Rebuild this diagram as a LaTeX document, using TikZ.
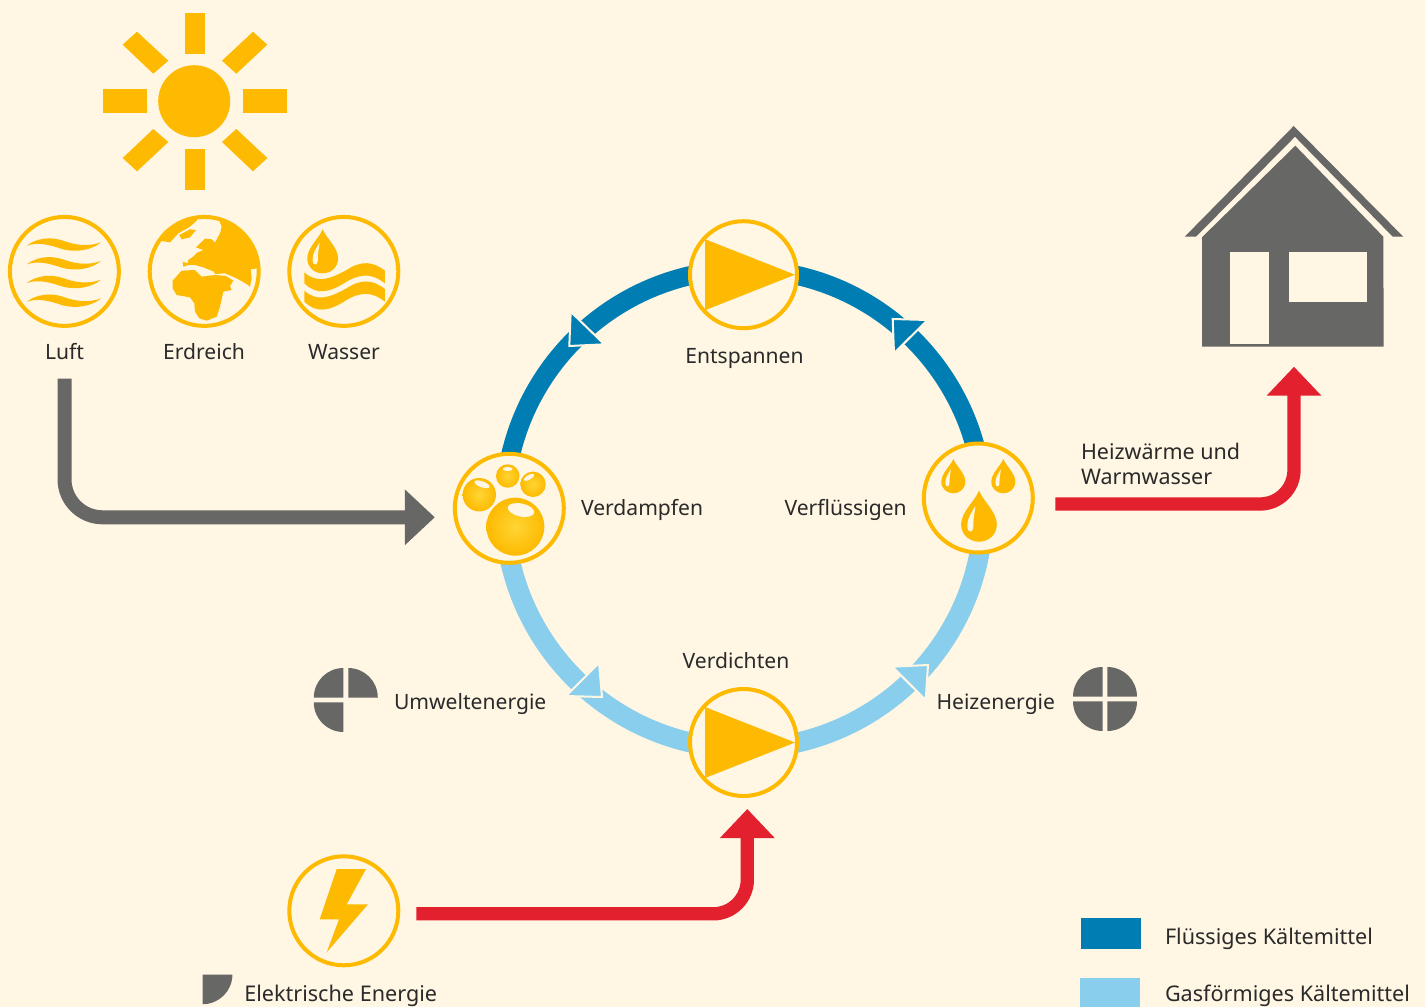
\documentclass[tikz,border=0pt]{standalone}
\usepackage{fontspec}
\setmainfont{Noto Sans}
\usetikzlibrary{arrows.meta,backgrounds}

\definecolor{creambg}{HTML}{FFF6E4}
\definecolor{sunyellow}{HTML}{FDBA00}
\definecolor{bubblelight}{HTML}{FFD535}
\definecolor{liquidblue}{HTML}{007DB3}
\definecolor{gasblue}{HTML}{89CEEC}
\definecolor{powerred}{HTML}{E2202E}
\definecolor{housegray}{HTML}{676766}
\definecolor{labelgray}{HTML}{2A2A2A}

\tikzset{
  iconring/.style={circle,draw=sunyellow,fill=creambg,line width=4pt,inner sep=0pt,outer sep=0pt,minimum size=109pt},
  pumpring/.style={iconring,minimum size=107pt},
  steplabel/.style={text=labelgray,font=\fontsize{21.1}{25}\selectfont,inner sep=0pt,outer sep=0pt,anchor=base},
  leftlabel/.style={steplabel,anchor=base west},
  legendlabel/.style={leftlabel,font=\fontsize{21.6}{25}\selectfont},
  liquidline/.style={draw=liquidblue,line width=19pt},
  gasline/.style={draw=gasblue,line width=20pt},
  ringtip/.style={draw=creambg,line width=2pt,line join=miter},
  redarrow/.style={draw=powerred,line width=13.3pt,rounded corners=34pt,-{Triangle[length=29pt,width=53pt]}},
  grayarrow/.style={draw=housegray,line width=14pt,rounded corners=38pt,-{Triangle[length=30pt,width=54pt]}}
}

% one drop, #1/#2 = tip, #3 = height
\newcommand\waterdrop[3]{%
  \begin{scope}[shift={(#1,#2)},x=#3pt,y=-#3pt]
    \fill[sunyellow] (0,0) .. controls (.08,.2) and (.35,.42) .. (.35,.66)
      .. controls (.35,.87) and (.18,1) .. (0,1)
      .. controls (-.18,1) and (-.35,.87) .. (-.35,.66)
      .. controls (-.35,.42) and (-.08,.2) .. (0,0) -- cycle;
    \fill[creambg] (-.07,.3) .. controls (-.14,.42) and (-.23,.54) .. (-.23,.68)
      .. controls (-.23,.78) and (-.19,.82) .. (-.15,.8)
      .. controls (-.11,.78) and (-.11,.72) .. (-.11,.64)
      .. controls (-.11,.5) and (-.08,.42) .. (-.07,.3) -- cycle;
  \end{scope}}

\begin{document}
\begin{tikzpicture}[x=1pt,y=-1pt]
  \useasboundingbox (0,0) rectangle (1425,1007);

  % Background
  \begin{scope}[on background layer]
    \fill[creambg] (0,0) rectangle (1425,1007);
  \end{scope}

  % The sun
  \fill[sunyellow] (194.2,101.2) circle[radius=36pt];
  \fill[sunyellow] (185,12.7) rectangle (205,53.7);
  \fill[sunyellow] (185,148.7) rectangle (205,190);
  \fill[sunyellow] (102.7,89.3) rectangle (147,113.3);
  \fill[sunyellow] (243,89.3) rectangle (287.3,113.3);
  \fill[sunyellow] (137,31.7) -- (168.3,60.7) -- (153.3,73.7) -- (122.7,44.7) -- cycle;
  \fill[sunyellow] (253,31.7) -- (267.3,44.7) -- (236.3,73.7) -- (222,60.7) -- cycle;
  \fill[sunyellow] (153.3,129) -- (168.3,142) -- (137,171.3) -- (122.7,158) -- cycle;
  \fill[sunyellow] (236.3,129) -- (267.3,158) -- (253,171.3) -- (222,142) -- cycle;

  % The three sources
  \node[iconring] (luft) at (64.4,271.4) {};
  \node[iconring] (erdreich) at (204.2,271.4) {};
  \node[iconring] (wasser) at (343.8,271.4) {};
  \node[steplabel] (lufttext) at (64.5,359.3) {Luft};
  \node[steplabel] (erdreichtext) at (204,359.3) {Erdreich};
  \node[steplabel] (wassertext) at (344,359.3) {Wasser};

  % Air
  \foreach \i in {0,1,2,3}
    \fill[sunyellow,shift={(0,18.7*\i)}] (26.7,245.7) .. controls (36,238.5) and (50,236) .. (64,241)
      .. controls (75,245) and (88,247) .. (101,242.3)
      .. controls (92,250) and (76,253) .. (62,249)
      .. controls (50,245) and (38,241.5) .. (26.7,245.7) -- cycle;

  % Earth
  \begin{scope}
    \clip (erdreich) circle[radius=54pt];
    \begin{scope}[shift={(140,210)},x=.3333pt,y=-.3333pt]
      \fill[sunyellow] (240,38) -- (245,50) -- (240,70) -- (225,98) -- (215,88) -- (195,86) -- (168,112) -- (190,120)
        -- (172,128) -- (160,140) -- (145,150) -- (143,160) -- (128,155) -- (130,170) -- (145,165) -- (165,165)
        -- (190,172) -- (222,185) -- (225,192) -- (255,190) -- (290,205) -- (320,222) -- (330,230) -- (335,205)
        -- (332,178) -- (352,175) -- (375,170) -- (375,10) -- (240,10) -- cycle;
      \fill[sunyellow] (60,92) -- (90,97) -- (115,70) -- (150,50) -- (170,32) -- (175,10) -- (60,10) -- cycle;
      \fill[sunyellow] (118,75) -- (125,88) -- (150,82) -- (168,60) -- (150,58) -- cycle;
      \fill[sunyellow] (98,212) -- (125,182) -- (165,180) -- (185,200) -- (225,195) -- (258,198) -- (280,212)
        -- (270,228) -- (275,240) -- (250,245) -- (240,290) -- (230,320) -- (200,332) -- (178,325) -- (165,305)
        -- (163,280) -- (150,262) -- (110,255) -- (98,235) -- cycle;
    \end{scope}
  \end{scope}

  % Water
  \waterdrop{322.7}{229.3}{44}
  \begin{scope}[shift={(0,200)},x=.3333pt,y=-.3333pt]
    \foreach \i in {0,55}
      \fill[sunyellow,shift={(0,\i)}] (913,217) .. controls (950,250) and (985,240) .. (1040,210)
        .. controls (1085,180) and (1120,185) .. (1155,212) -- (1155,250)
        .. controls (1120,222) and (1085,218) .. (1040,245)
        .. controls (985,280) and (950,285) .. (913,250) -- cycle;
  \end{scope}

  % The four steps of the circuit
  \node[pumpring] (entspannen) at (743.5,274.7) {};
  \node[pumpring] (verdichten) at (743.5,742.5) {};
  \node[iconring] (verdampfen) at (509.3,508.3) {};
  \node[iconring] (verfluessigen) at (978.3,498) {};
  \node[steplabel] (entspannentext) at (744.5,363.2) {Entspannen};
  \node[steplabel] (verdichtentext) at (736,668.2) {Verdichten};
  \node[leftlabel] (verdampfentext) at (581,515) {Verdampfen};
  \node[leftlabel] (verfluessigentext) at (784.5,515) {Verflüssigen};

  \foreach \pump in {entspannen,verdichten}
    \fill[sunyellow] ([shift={(-38.5,-35.5)}]\pump.center) -- ([shift={(51.5,0)}]\pump.center)
      -- ([shift={(-38.5,35.5)}]\pump.center) -- cycle;

  % Ring, under the step nodes
  \coordinate (ringW) at (504.5,509);
  \coordinate (ringE) at (983.5,509);
  \begin{scope}[on background layer]
    \draw[liquidline] (verdampfen.center) -- (ringW) arc[start angle=180,end angle=90,radius=239.5pt] -- (entspannen.center);
    \draw[liquidline] (verfluessigen.center) -- (ringE) arc[start angle=0,end angle=90,radius=239.5pt] -- (entspannen.center);
    \draw[gasline] (verdampfen.center) -- (ringW) arc[start angle=180,end angle=270,radius=239.5pt] -- (verdichten.center);
    \draw[gasline] (verfluessigen.center) -- (ringE) arc[start angle=0,end angle=-90,radius=239.5pt] -- (verdichten.center);
  \end{scope}

  % Tips on the ring
  \fill[liquidblue,ringtip] (570.7,311.7) -- (604.3,344.3) -- (569.3,346) -- cycle;
  \fill[liquidblue,ringtip] (892.7,319) -- (927.5,320) -- (894,353.3) -- cycle;
  \fill[gasblue,ringtip] (599,663) -- (566,696) -- (602,697) -- cycle;
  \fill[gasblue,ringtip] (892.3,666.7) -- (928,665) -- (925.7,700) -- cycle;

  % Bubbles
  \foreach \bx/\by/\br/\hx/\hy/\hrx/\hry/\hrot in {515.3/526.7/29/521/510/13.5/6.5/-12,
      479.3/494.7/16.7/482/484.3/8/3/-20, 507.7/476/11.7/507.7/469/5/2/0, 533/484.3/12.7/529/477.3/6/2.3/30}{
    \shade[inner color=bubblelight,outer color=sunyellow] (\bx,\by) circle[radius=\br pt];
    \fill[creambg] (\hx,\hy) circle[x radius=\hrx pt,y radius=\hry pt,rotate=\hrot];
  }

  % Drops
  \waterdrop{953.3}{459}{34.3}
  \waterdrop{1003.3}{459}{34.3}
  \waterdrop{979}{490.7}{51}

  % Energy marks
  \coordinate (umwelt) at (345.8,700);
  \coordinate (heizung) at (1105,699);
  \foreach \a in {0,90,180}
    \fill[housegray] ([shift={(\a+45:3.5pt)}]umwelt) -- ++(\a:29.5pt) arc[start angle=\a,end angle=\a+90,radius=29.5pt] -- cycle;
  \foreach \a in {0,90,180,270}
    \fill[housegray] ([shift={(\a+45:3.5pt)}]heizung) -- ++(\a:29.5pt) arc[start angle=\a,end angle=\a+90,radius=29.5pt] -- cycle;
  \node[leftlabel] (umwelttext) at (394,709.3) {Umweltenergie};
  \node[leftlabel] (heiztext) at (936.5,709.3) {Heizenergie};

  % Electric energy
  \node[iconring] (strom) at (343.8,910.8) {};
  \fill[sunyellow] (336.7,869) -- (366,869) -- (346.7,904.3) -- (368,904.3) -- (326.7,952.3) -- (339,919.3) -- (319.7,919.3) -- cycle;
  \coordinate (stromecke) at (202.7,974.5);
  \fill[housegray] (stromecke) -- ++(0:29.7pt) arc[start angle=0,end angle=-90,radius=29.7pt] -- cycle;
  \node[legendlabel] (stromtext) at (244.3,1001.5) {Elektrische Energie};

  % The house
  \coordinate (haus) at (1294,347);
  \fill[housegray] (1293.7,126) -- (1403.3,236.7) -- (1392.7,236.7) -- (1295,136.7) -- (1196,236.7) -- (1184.7,236.7) -- cycle;
  \fill[housegray] (1295.3,145.7) -- (1383.3,236.7) -- (1383.7,346.7) -- (1202,346.7) -- (1202,237.3) -- cycle;
  \fill[creambg] (1230,252.3) rectangle (1269,344.3);
  \fill[creambg] (1289.3,252.3) rectangle (1366.7,302.3);
  \node[leftlabel,anchor=north west,align=left,font=\fontsize{21.5}{25}\selectfont] (heizwaermetext) at (1081,443.5) {Heizwärme und\\Warmwasser};

  % Arrows
  \draw[grayarrow] ([shift={(0,19)}]lufttext.south) |- ([shift={(-20,9)}]verdampfen.west);
  \draw[redarrow] ([shift={(18,3)}]strom.east) -| ([shift={(3.8,13)}]verdichten.south);
  \draw[redarrow] ([shift={(22.5,6)}]verfluessigen.east) -| ([shift={(0,19.7)}]haus);

  % Legend
  \node[draw=none,fill=liquidblue,minimum width=60pt,minimum height=31pt,inner sep=0pt] (legendliquid) at (1111,933.5) {};
  \node[draw=none,fill=gasblue,minimum width=60pt,minimum height=31pt,inner sep=0pt] (legendgas) at (1110,993.5) {};
  \node[legendlabel] (liquidtext) at (1165,944) {Flüssiges Kältemittel};
  \node[legendlabel] (gastext) at (1165,1001.5) {Gasförmiges Kältemittel};
\end{tikzpicture}
\end{document}
